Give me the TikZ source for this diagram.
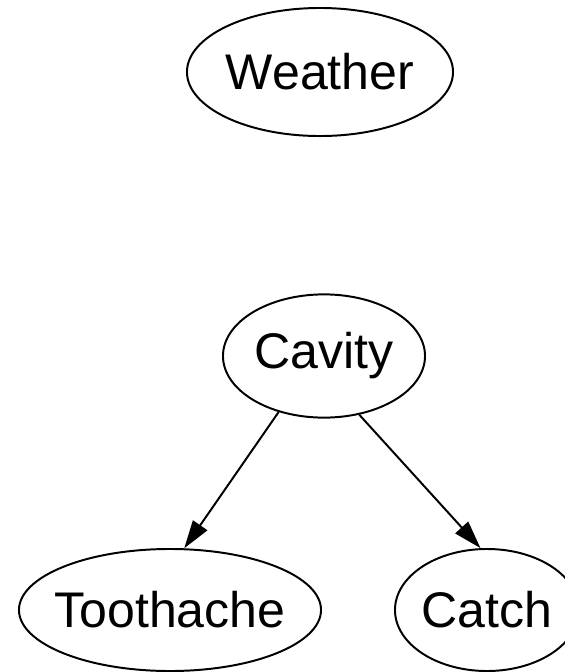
\documentclass[tikz,border=0pt]{standalone}
\usepackage{fontspec}
\setmainfont{Liberation Sans}
\usepackage{tikz}
\usetikzlibrary{shapes.geometric, arrows.meta, positioning}
\tikzset{
    rv/.style={ellipse, draw, line width=1.4pt, inner sep=0pt, minimum width=#1, minimum height=3.05cm, font=\fontsize{35.6}{40}\selectfont},
    arrow/.style={-{Triangle[length=7mm, width=4.3mm]}, line width=1.4pt}
}

\begin{document}
\begin{tikzpicture}[x=0.025cm, y=-0.025cm]
            \useasboundingbox (0,0) rectangle (565,672);
            \node (weather) [rv=6.65cm, minimum height=3.2cm] at (320,72) {\makebox[0pt]{Weather}};
            \node (cavity) [rv=5.05cm, minimum height=3.08cm] at (324,356) {\makebox[0pt]{Cavity}};
            \node (toothache) [rv=7.55cm] at (170,610) {\makebox[0pt]{Toothache}};
            \node (catch) [rv=4.6cm] at (487,610) {\makebox[0pt]{Catch}};
            
            \draw[arrow] (cavity.-129) -- (toothache.77);
            \draw[arrow] (cavity.-59) -- (catch.96);
        \end{tikzpicture}
\end{document}
